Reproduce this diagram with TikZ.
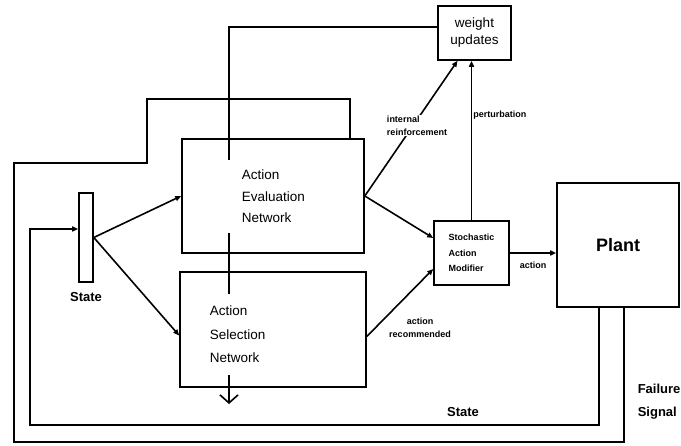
\documentclass[tikz,border=0pt]{standalone}
\usepackage{fontspec}
\setmainfont{Liberation Sans}
\usetikzlibrary{arrows.meta,positioning}

\begin{document}
\begin{tikzpicture}[x=1pt,y=-1pt,line width=1.6pt,
    box/.style={draw,inner sep=0pt,align=center},
    arr/.style={-{Triangle[length=6pt,width=5pt]}},
    barb/.style={-{Straight Barb[length=8pt,width=18pt]}},
    net/.style={font=\fontsize{13.5}{#1}\selectfont,align=left,fill=white,anchor=north west},
    lbl/.style={font=\bfseries\fontsize{9}{13}\selectfont,align=left,inner sep=1pt},
    big/.style={font=\bfseries\fontsize{13}{23}\selectfont,align=left,inner sep=0pt}]
  \useasboundingbox (0,0) rectangle (681,446);
  \def\blk#1#2#3#4#5{\node[box,minimum width=#4-#2,minimum height=#5-#3] (#1) at ({(#2+#4)/2},{(#3+#5)/2})}

  \blk{wu}{438}{6}{511}{60} [font=\fontsize{13.5}{17}\selectfont] {weight\\updates};
  \blk{aen}{182}{139}{364}{253} {};
  \blk{asn}{180}{272}{366}{387} {};
  \blk{sam}{434}{221}{509}{285} [font=\bfseries\fontsize{9}{15.5}\selectfont,align=left] {Stochastic\\Action\\Modifier};
  \blk{plant}{557}{183}{679}{307} [font=\bfseries\fontsize{18}{20}\selectfont] {Plant};
  \blk{bar}{79}{193}{93}{282} {};
  \node[big,below=9pt of bar] (barlbl) {State};

  % weight changes run down through both networks
  \coordinate (wc) at (229,27);
  \coordinate (wd) at (229,404);
  \draw[barb] (wu.west |- wc) -| (wd);
  \node[net=21.5,inner xsep=14pt,inner ysep=10pt] (aent) at (227,159) {Action\\Evaluation\\Network};
  \node[net=23.5,inner xsep=5pt,inner ysep=12pt] (asnt) at (204,293) {Action\\Selection\\Network};

  \draw[arr] (bar.east) -- (aen.west);
  \draw[arr] (bar.east) -- ([yshift=-6pt]asn.west);
  \draw[arr] (aen.east) -- ([yshift=15pt]sam.west);
  \draw[arr] ([yshift=-7pt]asn.east) -- ([yshift=-16pt]sam.west);
  \node[lbl,align=center] (recl) at (420,328) {action\\recommended};
  \draw[arr] (aen.east) -- ([xshift=-17pt]wu.south)
    node[lbl,pos=.52,xshift=4pt,fill=white] {internal\\reinforcement};
  \draw[arr] (sam.north) -- (sam.north |- wu.south) node[lbl,pos=.66,right] {perturbation};
  \draw[arr] (sam.east) -- (sam.east -| plant.west) node[lbl,midway,below=7pt] {action};

  % state fed back from the plant
  \coordinate (sb) at (599,425);
  \coordinate (sa) at (30,229);
  \draw[arr] (plant.south -| sb) -- (sb) -| (sa) -- (sa -| bar.west);
  \node[big,anchor=base] (stl) at (463,417) {State};

  % failure signal to the evaluation network
  \coordinate (fb) at (624,442);
  \coordinate (fl) at (14,163);
  \coordinate (fu) at (147,99);
  \coordinate (fr) at (350,99);
  \draw (plant.south -| fb) -- (fb) -| (fl) -- (fl -| fu) |- (fr) -- (fr |- aen.north);
  \node[big,anchor=north west] (fs) at (637,383.5) {Failure\\Signal};
\end{tikzpicture}
\end{document}
